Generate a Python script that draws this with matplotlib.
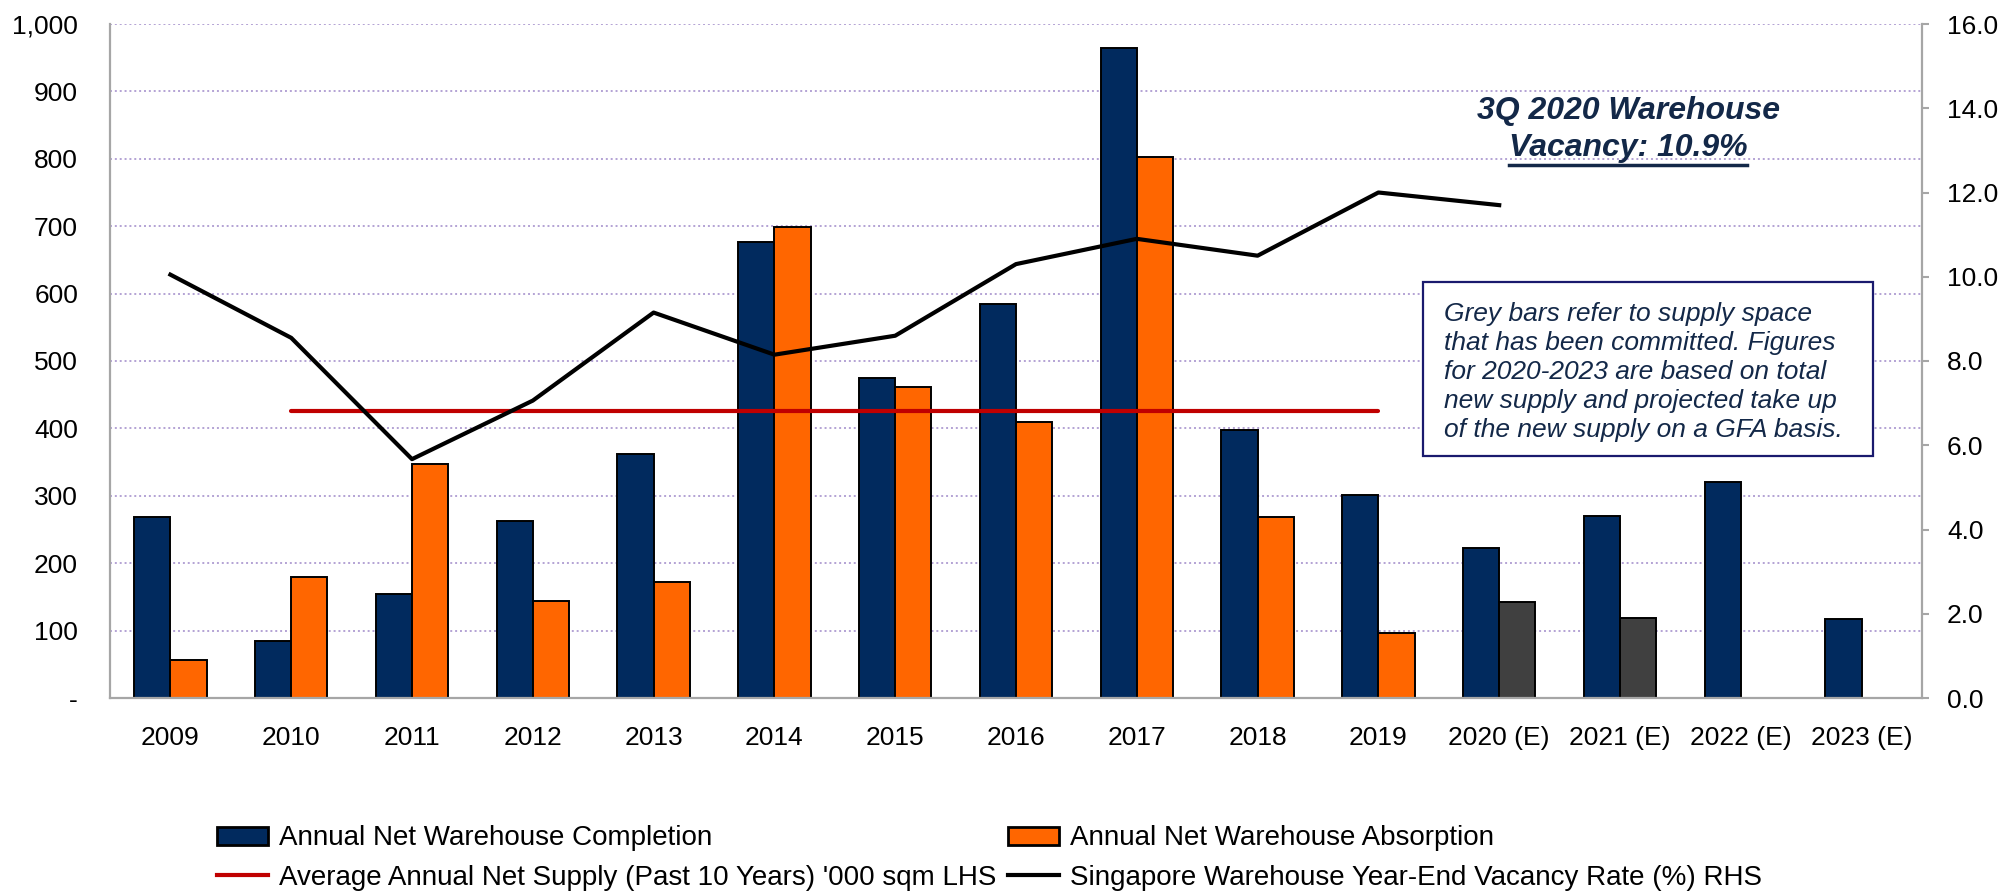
import numpy as np
import matplotlib
matplotlib.use("Agg")
import matplotlib.pyplot as plt
from matplotlib.lines import Line2D
from matplotlib.patches import Rectangle
from matplotlib.ticker import FuncFormatter, MultipleLocator

plt.rcParams['font.family'] = ['Liberation Sans', 'DejaVu Sans']

# data
years = ['2009', '2010', '2011', '2012', '2013', '2014', '2015', '2016',
         '2017', '2018', '2019', '2020 (E)', '2021 (E)', '2022 (E)', '2023 (E)']
completion = [269, 85, 155, 263, 362, 676, 475, 585, 964, 398, 301, 222, 270, 321, 117]
absorption = [57, 180, 347, 144, 172, 699, 462, 409, 803, 269, 97, 142, 119, np.nan, np.nan]
committed = [False] * 11 + [True] * 4
avg_supply = [np.nan] + [426] * 10 + [np.nan] * 4
vacancy = [10.05, 8.55, 5.67, 7.06, 9.15, 8.15, 8.6, 10.3, 10.9, 10.5, 12.0, 11.7,
           np.nan, np.nan, np.nan]

navy = '#012a5e'
orange = '#ff6600'
grey = '#404040'
red = '#c00000'
spine_c = '#a6a6a6'
txt_navy = '#132848'

W, H = 2001, 893
fig = plt.figure(figsize=(W / 100, H / 100), dpi=100)
ax = fig.add_axes([110 / W, 1 - 698 / H, (1922 - 110) / W, (698 - 24) / H])

x = np.arange(len(years))
bw = 0.3
ax.bar(x - bw / 2, completion, bw, color=navy, edgecolor='black', linewidth=1.4, zorder=2)
abs_colors = [grey if c else orange for c in committed]
ax.bar(x + bw / 2, absorption, bw, color=abs_colors, edgecolor='black', linewidth=1.4, zorder=2)
ax.plot(x, avg_supply, color=red, lw=3, solid_capstyle='round', zorder=3)

ax.set_xlim(-0.5, len(years) - 0.5)
ax.set_ylim(0, 1000)
ax.yaxis.set_major_locator(MultipleLocator(100))
ax.yaxis.set_major_formatter(FuncFormatter(lambda v, p: '-' if v == 0 else f'{int(v):,}'))
ax.set_xticks(x)
ax.set_xticklabels(years)
ax.tick_params(axis='x', length=0, pad=20, labelsize=19)
ax.tick_params(axis='y', length=0, pad=23, labelsize=19)
ax.grid(axis='y', linestyle=(0, (1, 1.5)), color='#b3a2d4', lw=1.4)
ax.set_axisbelow(True)
for s in ['top', 'right']:
    ax.spines[s].set_visible(False)
for s in ['left', 'bottom']:
    ax.spines[s].set_color(spine_c)
    ax.spines[s].set_linewidth(1.6)

ax2 = ax.twinx()
ax2.plot(x, vacancy, color='black', lw=3, zorder=3)
ax2.set_ylim(0, 16)
ax2.yaxis.set_major_locator(MultipleLocator(2))
ax2.yaxis.set_major_formatter(FuncFormatter(lambda v, p: f'{v:.1f}'))
ax2.tick_params(axis='y', direction='out', length=5, width=1.5, color=spine_c,
                pad=13, labelsize=19)
for s in ['top', 'left', 'bottom']:
    ax2.spines[s].set_visible(False)
ax2.spines['right'].set_color(spine_c)
ax2.spines['right'].set_linewidth(1.6)

# annotation with underline on second line
fig.text(1628 / W, 1 - 111 / H, '3Q 2020 Warehouse', ha='center', va='center',
         fontsize=23, fontweight='bold', fontstyle='italic', color=txt_navy)
t2 = fig.text(1628 / W, 1 - 148 / H, 'Vacancy: 10.9%', ha='center', va='center',
              fontsize=23, fontweight='bold', fontstyle='italic', color=txt_navy)
fig.canvas.draw()
bb = t2.get_window_extent()
fig.add_artist(Line2D([bb.x0 / W, bb.x1 / W], [1 - 165 / H] * 2, color=txt_navy, lw=2.5))

# note box
fig.add_artist(Rectangle((1423 / W, 1 - 456 / H), (1873 - 1423) / W, (456 - 282) / H,
                         facecolor='white', edgecolor='#1a1a6e', lw=1.6))
note = ('Grey bars refer to supply space\nthat has been committed. Figures\n'
        'for 2020-2023 are based on total\nnew supply and projected take up\n'
        'of the new supply on a GFA basis.')
fig.text(1444 / W, 1 - 372 / H, note, ha='left', va='center', fontsize=19,
         fontstyle='italic', color=txt_navy, linespacing=1.27)

# legend, one per column
leg_kw = dict(loc='center left', frameon=False, fontsize=20, handlelength=1.83,
              handleheight=0.6, handletextpad=0.4, labelspacing=0.47,
              borderpad=0, borderaxespad=0)
leg1 = fig.legend([Rectangle((0, 0), 1, 1, facecolor=navy, edgecolor='black', lw=2),
                   Line2D([], [], color=red, lw=3)],
                  ['Annual Net Warehouse Completion',
                   "Average Annual Net Supply (Past 10 Years) '000 sqm LHS"],
                  bbox_to_anchor=(217 / W, 1 - 858 / H), **leg_kw)
leg2 = fig.legend([Rectangle((0, 0), 1, 1, facecolor=orange, edgecolor='black', lw=2),
                   Line2D([], [], color='black', lw=3)],
                  ['Annual Net Warehouse Absorption',
                   'Singapore Warehouse Year-End Vacancy Rate (%) RHS'],
                  bbox_to_anchor=(1008 / W, 1 - 858 / H), **leg_kw)

fig.savefig('out.png', dpi=100)
